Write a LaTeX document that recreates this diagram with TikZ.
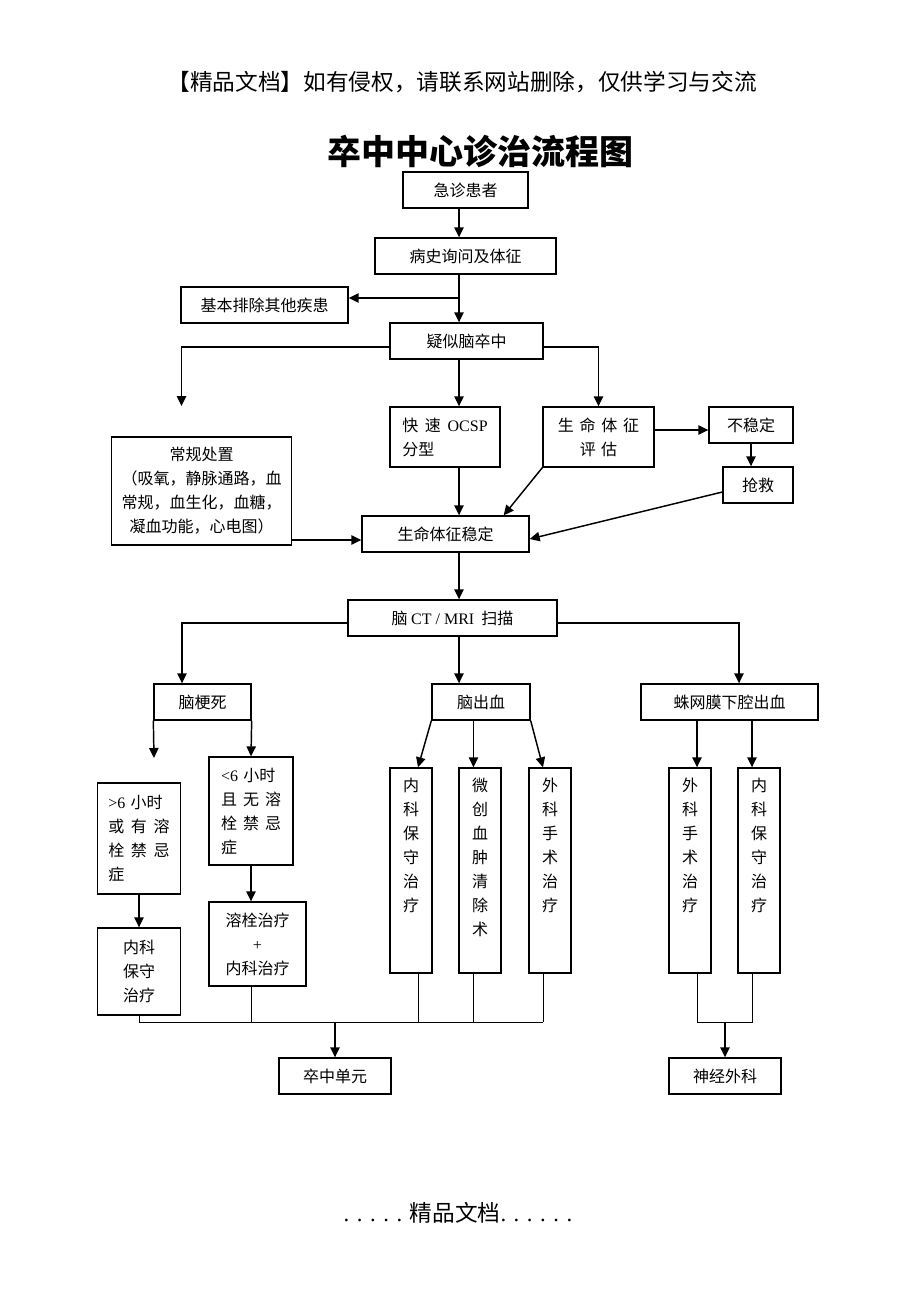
\documentclass[tikz,border=0pt]{standalone}
\usepackage{fontspec}
\newfontfamily\cjk{Noto Sans CJK SC}
\newfontfamily\lat{Liberation Serif}
\usepackage{tikz}
\usetikzlibrary{arrows.meta, positioning}
\tikzstyle{block} = [rectangle, line width=1pt, draw=black, inner sep=2pt, align=center, font=\cjk\fontsize{12}{18}\selectfont]
\tikzstyle{arrow} = [line width=1.1pt, -{Triangle[length=7.5pt,width=7pt]}]
\tikzstyle{joint} = [line width=0.7pt]
\newcommand{\colstack}[1]{\parbox[c][150pt][t]{1.2em}{\centering\vspace*{6pt}#1}}

\begin{document}
\begin{tikzpicture}[x=0.75pt, y=-0.75pt]
		\useasboundingbox (0,0) rectangle (920,1302);
		\fill[white] (0,0) rectangle (920,1302);
		\node (Header) [font=\cjk\fontsize{17}{20}\selectfont] at (462,82) {【精品文档】如有侵权，请联系网站删除，仅供学习与交流};
		\node (Title) [font=\cjk\bfseries\fontsize{25.5}{30}\selectfont] at (480,151) {卒中中心诊治流程图};
		\node (Patient) [block, minimum width=93.75pt, minimum height=27pt] at (465.5,190) {急诊患者};
		\node (History) [block, minimum width=135.75pt, minimum height=27pt] at (465.5,256) {病史询问及体征};
		\node (Exclude) [block, minimum width=125.25pt, minimum height=27pt] at (264.5,305) {基本排除其他疾患};
		\node (Suspect) [block, minimum width=114.75pt, minimum height=27pt] at (466.5,341) {疑似脑卒中};
		\node (OCSP) [block, align=left, text width=64pt, minimum width=82.5pt, minimum height=45pt] at (445,437) {快\hfill 速\hfill {\lat OCSP}\\分型};
		\node (Assess) [block, text width=61pt, minimum width=83.25pt, minimum height=45pt] at (598.5,437) {生\hfill 命\hfill 体\hfill 征\\评\ 估};
		\node (Unstable) [block, minimum width=63pt, minimum height=27pt] at (751,425) {不稳定};
		\node (Rescue) [block, minimum width=52.5pt, minimum height=27pt] at (758,485) {抢救};
		\node (Routine) [block, minimum width=135pt, minimum height=81pt] at (201.5,491) {常规处置\\（吸氧，静脉通路，血\\常规，血生化，血糖，\\凝血功能，心电图）};
		\node (Stable) [block, minimum width=125.25pt, minimum height=27pt] at (445.5,534) {生命体征稳定};
		\node (Scan) [block, minimum width=156.75pt, minimum height=27pt] at (452.5,618) {脑 {\lat CT / MRI} \ 扫描};
		\node (Infarct) [block, minimum width=72.75pt, minimum height=27pt] at (202.5,702) {脑梗死};
		\node (Hemorrhage) [block, minimum width=73.5pt, minimum height=27pt] at (481,702) {脑出血};
		\node (SAH) [block, minimum width=132.75pt, minimum height=27pt] at (729.5,702) {蛛网膜下腔出血};
		\node (Late) [block, align=left, text width=46pt, minimum width=62.25pt, minimum height=83.25pt] at (139,838.5) {{\lat >6} 小时\\或\hfill 有\hfill 溶\\栓\hfill 禁\hfill 忌\\症};
		\node (Early) [block, align=left, text width=45pt, minimum width=63pt, minimum height=81pt] at (251,811) {{\lat <6} 小时\\且\hfill 无\hfill 溶\\栓\hfill 禁\hfill 忌\\症};
		\node (ConservA) [block, minimum width=62.25pt, minimum height=65.25pt] at (139,971.5) {内科\\保守\\治疗};
		\node (Lysis) [block, minimum width=72.75pt, minimum height=63pt] at (257.5,944) {溶栓治疗\\{\lat +}\\内科治疗};
		\node (MedicalA) [block, inner sep=0pt, minimum width=31.5pt, minimum height=153.75pt] at (411,870.5) {\colstack{内\\科\\保\\守\\治\\疗}};
		\node (Minimal) [block, inner sep=0pt, minimum width=31.5pt, minimum height=153.75pt] at (480,870.5) {\colstack{微\\创\\血\\肿\\清\\除\\术}};
		\node (SurgeryA) [block, inner sep=0pt, minimum width=31.5pt, minimum height=153.75pt] at (550,870.5) {\colstack{外\\科\\手\\术\\治\\疗}};
		\node (SurgeryB) [block, inner sep=0pt, minimum width=31.5pt, minimum height=153.75pt] at (690,870.5) {\colstack{外\\科\\手\\术\\治\\疗}};
		\node (MedicalB) [block, inner sep=0pt, minimum width=31.5pt, minimum height=153.75pt] at (759,870.5) {\colstack{内\\科\\保\\守\\治\\疗}};
		\node (Unit) [block, minimum width=84pt, minimum height=27pt] at (335,1076) {卒中单元};
		\node (Neuro) [block, minimum width=84pt, minimum height=27pt] at (725,1076) {神经外科};
		\node (Footer) [font=\lat\fontsize{17}{20}\selectfont] at (458,1213) {. . . . . {\cjk 精品文档}. . . . . .};
		\coordinate (Trunk) at (459,0);
		\coordinate (Branch) at (459,298);
		\coordinate (LooseA) at (181.5,406);
		\coordinate (LooseB) at (154,758);
		\coordinate (LeftLane) at (182,0);
		\coordinate (RightLane) at (739,0);
		\coordinate (JoinL) at (335,1022);
		\coordinate (JoinR) at (725,1022);
		\path ([xshift=5.25pt]MedicalA.north) coordinate (g1) ([xshift=-4.9pt]Minimal.north) coordinate (g2) ([xshift=-5.25pt]SurgeryA.north) coordinate (g3) ([xshift=5.25pt]SurgeryB.north) coordinate (g4) ([xshift=-5.25pt]MedicalB.north) coordinate (g5);
		\path ([yshift=-4.5pt]Stable.west) coordinate (StableIn);
		\draw [arrow] (Patient.south -| Trunk) -- (History.north -| Trunk);
		\draw [arrow] (History.south -| Trunk) -- (Suspect.north -| Trunk);
		\draw [arrow] (Branch) -- (Branch -| Exclude.east);
		\draw [arrow] ([yshift=-4.5pt]Suspect.west) -| (LooseA);
		\draw [arrow] ([yshift=-4.5pt]Suspect.east) -| (Assess.north);
		\draw [arrow] (Suspect.south -| Trunk) -- (OCSP.north -| Trunk);
		\draw [arrow] ([yshift=5.25pt]Assess.east) coordinate (AssessOut) -- (AssessOut -| Unstable.west);
		\draw [arrow] (Unstable.south) -- (Unstable.south |- Rescue.north);
		\draw [arrow] (OCSP.south -| Trunk) -- (Stable.north -| Trunk);
		\draw [arrow] (Assess.south west) -- ([xshift=-19.5pt]Stable.north east);
		\draw [arrow] ([yshift=-5.25pt]Rescue.west) -- ([yshift=-3.75pt]Stable.east);
		\draw [arrow] (StableIn -| Routine.east) -- (StableIn);
		\draw [arrow] (Stable.south -| Trunk) -- (Scan.north -| Trunk);
		\draw [arrow] ([yshift=-3.75pt]Scan.west) -| (Infarct.north -| LeftLane);
		\draw [arrow] ([yshift=-3.75pt]Scan.east) -| (SAH.north -| RightLane);
		\draw [arrow] (Scan.south -| Trunk) -- (Hemorrhage.north -| Trunk);
		\draw [arrow] (Infarct.south west) -- (LooseB);
		\draw [arrow] (Infarct.south east) -- (Early.north);
		\draw [arrow] (Late.south) -- (ConservA.north);
		\draw [arrow] (Early.south) -- (Early.south |- Lysis.north);
		\draw [arrow] (Hemorrhage.south west) -- (g1);
		\draw [arrow] (Hemorrhage.south -| g2) -- (g2);
		\draw [arrow] (Hemorrhage.south east) -- (g3);
		\draw [arrow] (SAH.south -| g4) -- (g4);
		\draw [arrow] (SAH.south -| g5) -- (g5);
		\draw [joint] (ConservA.south) -- (ConservA.south |- JoinL) -- (g3 |- JoinL);
		\draw [joint] (Early.south |- Lysis.south) -- (Early.south |- JoinL);
		\draw [joint] (g1 |- MedicalA.south) -- (g1 |- JoinL);
		\draw [joint] (g2 |- Minimal.south) -- (g2 |- JoinL);
		\draw [joint] (g3 |- SurgeryA.south) -- (g3 |- JoinL);
		\draw [arrow] (JoinL) -- (Unit.north);
		\draw [joint] (g4 |- SurgeryB.south) -- (g4 |- JoinR) -- (g5 |- JoinR) -- (g5 |- MedicalB.south);
		\draw [arrow] (JoinR) -- (Neuro.north);
\end{tikzpicture}
\end{document}
